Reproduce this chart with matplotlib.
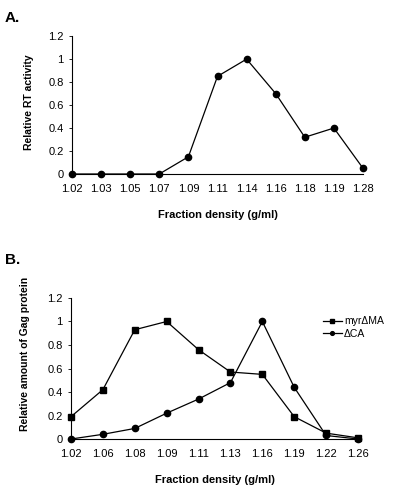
import matplotlib
matplotlib.use("Agg")
import matplotlib.pyplot as plt

# panel A
dens_a = ["1.02", "1.03", "1.05", "1.07", "1.09", "1.11", "1.14", "1.16", "1.18", "1.19", "1.28"]
rt_activity = [0, 0, 0, 0, 0.15, 0.85, 1.0, 0.7, 0.32, 0.4, 0.05]

# panel B
dens_b = ["1.02", "1.06", "1.08", "1.09", "1.11", "1.13", "1.16", "1.19", "1.22", "1.26"]
myr_dma = [0.19, 0.42, 0.93, 1.0, 0.76, 0.57, 0.55, 0.19, 0.05, 0.01]
d_ca = [0.0, 0.04, 0.09, 0.22, 0.34, 0.48, 1.0, 0.44, 0.03, 0.0]

plt.rcParams['font.family'] = ['Liberation Sans', 'DejaVu Sans']

fig = plt.figure(figsize=(4, 4.95), dpi=100)
ax1 = fig.add_axes([0.18, 0.6485, 0.7275, 0.2785])
ax2 = fig.add_axes([0.1775, 0.1131, 0.7175, 0.2849])


def style(ax, labels, ylabel, xpos, ypos):
    ax.set_xlim(0, len(labels) - 1)
    ax.set_ylim(0, 1.2)
    ax.set_xticks(range(len(labels)))
    ax.set_xticklabels(labels)
    ax.set_yticks([0, 0.2, 0.4, 0.6, 0.8, 1.0, 1.2])
    ax.set_yticklabels(["0", "0.2", "0.4", "0.6", "0.8", "1", "1.2"])
    for s in ["top", "right"]:
        ax.spines[s].set_visible(False)
    for s in ["left", "bottom"]:
        ax.spines[s].set_linewidth(0.8)
    ax.tick_params(axis="both", labelsize=8, length=2, width=0.6, pad=4)
    ax.tick_params(axis="x", length=0, pad=7)
    ax.set_xlabel("Fraction density (g/ml)", fontsize=8, fontweight="bold", labelpad=12)
    ax.set_ylabel(ylabel, fontsize=7.5, fontweight="bold")
    ax.yaxis.set_label_coords(xpos, ypos)


x_a = list(range(len(dens_a)))
ax1.plot(x_a, rt_activity, color="black", lw=0.9, marker="o", ms=4.5, clip_on=False)
style(ax1, dens_a, "Relative RT activity", -0.132, 0.52)

x_b = list(range(len(dens_b)))
ax2.plot(x_b, myr_dma, color="black", lw=0.9, marker="s", ms=4.5, clip_on=False, label="myrΔMA")
ax2.plot(x_b, d_ca, color="black", lw=0.9, marker="o", ms=4.5, clip_on=False, label="ΔCA")
style(ax2, dens_b, "Relative amount of Gag protein", -0.142, 0.6)
leg = ax2.legend(loc="upper left", bbox_to_anchor=(0.878, 0.87), frameon=False, fontsize=7.5,
                 handlelength=1.8, markerscale=0.6, borderaxespad=0, borderpad=0,
                 labelspacing=0.25, handletextpad=0.2)

fig.text(0.012, 0.978, "A.", fontsize=11, fontweight="bold", va="top")
fig.text(0.012, 0.488, "B.", fontsize=11, fontweight="bold", va="top")

fig.savefig("out.png", dpi=100)
